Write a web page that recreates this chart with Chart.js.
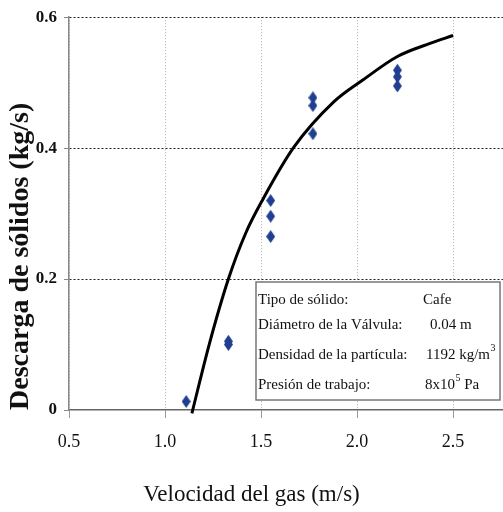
<!DOCTYPE html>
<html>
<head>
<meta charset="utf-8">
<script src="https://cdn.jsdelivr.net/npm/chart.js@4/dist/chart.umd.min.js"></script>
<style>
  html, body { margin: 0; padding: 0; background: #fff; }
  canvas { display: block; }
</style>
</head>
<body>
<canvas id="descargaChart" width="503" height="512"></canvas>
<script>
// experimental points: gas velocity (m/s) vs solids discharge (kg/s)
const expVelocity = [1.11, 1.33, 1.33, 1.55, 1.55, 1.55, 1.77, 1.77, 1.77, 2.21, 2.21, 2.21];
const expDischarge = [0.013, 0.100, 0.105, 0.320, 0.296, 0.265, 0.477, 0.465, 0.422, 0.519, 0.509, 0.495];

// model curve
const fitVelocity = [1.14, 1.23, 1.33, 1.42, 1.51, 1.67, 1.88, 2.03, 2.21, 2.38, 2.50];
const fitDischarge = [-0.005, 0.100, 0.200, 0.270, 0.322, 0.401, 0.471, 0.504, 0.540, 0.560, 0.572];

const xTicks = [0.5, 1.0, 1.5, 2.0, 2.5];
const yTicks = [0, 0.2, 0.4, 0.6];

// info box rows
const infoLabels = ["Tipo de sólido:", "Diámetro de la Válvula:", "Densidad de la partícula:", "Presión de trabajo:"];
const infoValues = ["Cafe", "0.04 m", "1192 kg/m", "8x10"];
const infoSup = ["", "", "3", "5"];
const infoAfterSup = ["", "", "", " Pa"];

Chart.defaults.font.family = "'Liberation Serif', 'Times New Roman', serif";
Chart.defaults.color = "#111";

// tall diamond marker
function diamond(w, h, color) {
    const c = document.createElement("canvas");
    c.width = w;
    c.height = h;
    const g = c.getContext("2d");
    g.fillStyle = color;
    g.beginPath();
    g.moveTo(w / 2, 0);
    g.lineTo(w, h / 2);
    g.lineTo(w / 2, h);
    g.lineTo(0, h / 2);
    g.closePath();
    g.fill();
    return c;
}

const infoBox = {
    id: "infoBox",
    afterDatasetsDraw(chart) {
        const ctx = chart.ctx;
        const left = 256, top = 282, right = 500, bottom = 400;
        const rowY = [300, 325, 355, 385];
        const colX = [258, 423, 430, 426, 425];
        ctx.save();
        ctx.fillStyle = "#fff";
        ctx.fillRect(left, top, right - left, bottom - top);
        ctx.strokeStyle = "#777";
        ctx.lineWidth = 1.5;
        ctx.strokeRect(left, top, right - left, bottom - top);
        ctx.fillStyle = "#111";
        ctx.textBaseline = "middle";
        ctx.textAlign = "left";
        const font = "15px 'Liberation Serif', serif";
        const supFont = "10px 'Liberation Serif', serif";
        infoLabels.forEach((lab, i) => {
            ctx.font = font;
            ctx.fillText(lab, colX[0], rowY[i]);
            const vx = colX[i + 1];
            ctx.fillText(infoValues[i], vx, rowY[i]);
            let x = vx + ctx.measureText(infoValues[i]).width;
            if (infoSup[i]) {
                ctx.font = supFont;
                ctx.fillText(infoSup[i], x + 0.5, rowY[i] - 7);
                x += ctx.measureText(infoSup[i]).width + 0.5;
                ctx.font = font;
                ctx.fillText(infoAfterSup[i], x, rowY[i]);
            }
        });
        ctx.restore();
    }
};

new Chart(document.getElementById("descargaChart"), {
    type: "scatter",
    data: {
        datasets: [
            {
                label: "Experimental",
                data: expVelocity.map((v, i) => ({ x: v, y: expDischarge[i] })),
                pointStyle: diamond(9, 13, "#203f90"),
                backgroundColor: "#203f90",
                borderColor: "#203f90"
            },
            {
                label: "Modelo",
                type: "line",
                data: fitVelocity.map((v, i) => ({ x: v, y: fitDischarge[i] })),
                borderColor: "#000",
                borderWidth: 3,
                pointRadius: 0,
                cubicInterpolationMode: "monotone",
                fill: false,
                clip: false
            }
        ]
    },
    options: {
        responsive: false,
        animation: false,
        devicePixelRatio: 1,
        layout: { autoPadding: false, padding: { top: 16, right: 0, left: 0, bottom: 0 } },
        plugins: {
            legend: { display: false },
            tooltip: { enabled: false },
            title: {
                display: true,
                position: "bottom",
                text: "Velocidad del gas (m/s)",
                font: { size: 23, weight: "normal" },
                color: "#111",
                padding: { top: 0, bottom: 3 }
            }
        },
        scales: {
            x: {
                type: "linear",
                min: 0.5,
                max: 2.76,
                afterBuildTicks: s => { s.ticks = xTicks.map(v => ({ value: v })); },
                afterFit: s => { s.height = 71.4; },
                ticks: {
                    padding: 13,
                    font: { size: 18 },
                    color: "#111",
                    callback: v => v.toFixed(1)
                },
                grid: {
                    color: "#aaa",
                    lineWidth: 1,
                    tickLength: 8,
                    tickColor: "#999"
                },
                border: { display: true, color: "#666", width: 1.5, dash: [1, 2] }
            },
            y: {
                min: 0,
                max: 0.6,
                afterBuildTicks: s => { s.ticks = yTicks.map(v => ({ value: v })); },
                afterFit: s => { s.width = 69; },
                ticks: {
                    padding: 7,
                    font: { size: 17, weight: "bold" },
                    color: "#111",
                    callback: v => v === 0 ? "0" : v.toFixed(1)
                },
                grid: {
                    color: ctx => ctx.tick && ctx.tick.value === 0 ? "rgba(0,0,0,0)" : "#222",
                    lineWidth: 1,
                    tickLength: 5,
                    tickColor: "#888"
                },
                border: { display: true, color: "#888", width: 1.5, dash: [2, 2] },
                title: {
                    display: true,
                    text: "Descarga de sólidos (kg/s)",
                    align: "start",
                    font: { size: 28, weight: "bold" },
                    color: "#111",
                    padding: { top: 4, bottom: 0 }
                }
            }
        }
    },
    plugins: [infoBox]
});
</script>
</body>
</html>
